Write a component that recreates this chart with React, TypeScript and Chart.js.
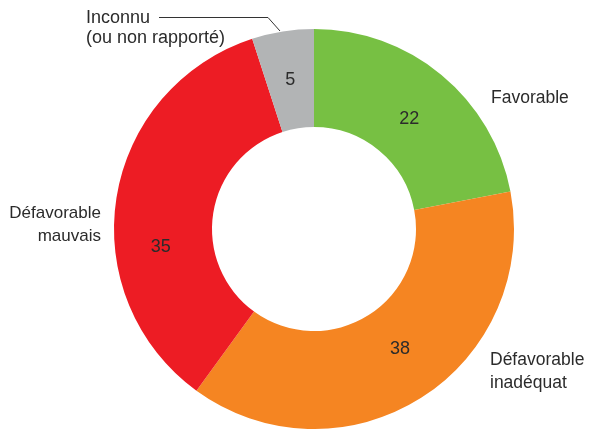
import React, { useEffect, useRef } from "react";
import { Chart, registerables } from "chart.js";

Chart.register(...registerables);

const categories = ["Favorable", "Défavorable inadéquat", "Défavorable mauvais", "Inconnu (ou non rapporté)"];
const values = [22, 38, 35, 5];
const colors = ["#77c043", "#f58522", "#ed1c24", "#b2b4b5"];
// external label lines per category
const labelLines = [["Favorable"], ["Défavorable", "inadéquat"], ["Défavorable", "mauvais"], ["Inconnu", "(ou non rapporté)"]];
// small nudges of the value labels from the arc centre
const valueNudges = [[-1, 6], [5, -7], [-4, 42], [0, 0]];

const FAMILY = '"Liberation Sans", Arial, sans-serif';
const TEXT = "#2b2b2b";

const labelPlugin = {
  id: "labelPlugin",
  afterDatasetsDraw(chart: any) {
    const ctx = chart.ctx;
    const meta = chart.getDatasetMeta(0);
    ctx.save();
    ctx.font = "18px " + FAMILY;
    ctx.fillStyle = TEXT;
    ctx.textBaseline = "middle";
    ctx.textAlign = "center";
    meta.data.forEach((arc: any, i: number) => {
      const p = arc.getCenterPoint();
      ctx.fillText(String(values[i]), p.x + valueNudges[i][0], p.y + valueNudges[i][1]);
    });
    const first = meta.data[0];
    const cx = first.x;
    const cy = first.y;
    const R = first.outerRadius;
    ctx.font = "17.5px " + FAMILY;
    // Favorable
    ctx.textAlign = "left";
    ctx.fillText(labelLines[0][0], cx + R * 0.885, cy - R * 0.655);
    // Défavorable inadéquat
    ctx.fillText(labelLines[1][0], cx + R * 0.88, cy + R * 0.655);
    ctx.fillText(labelLines[1][1], cx + R * 0.88, cy + R * 0.77);
    // Défavorable mauvais
    ctx.font = "17px " + FAMILY;
    ctx.textAlign = "right";
    ctx.fillText(labelLines[2][0], cx - R * 1.065, cy - R * 0.08);
    ctx.fillText(labelLines[2][1], cx - R * 1.065, cy + R * 0.035);
    // Inconnu
    ctx.font = "18px " + FAMILY;
    ctx.textAlign = "left";
    ctx.fillText(labelLines[3][0], cx - R * 1.14, cy - R * 1.055);
    ctx.fillText(labelLines[3][1], cx - R * 1.14, cy - R * 0.955);
    // leader line
    ctx.strokeStyle = "#333";
    ctx.lineWidth = 1;
    ctx.beginPath();
    ctx.moveTo(cx - R * 0.775, cy - R * 1.06 + 0.5);
    ctx.lineTo(cx - R * 0.23, cy - R * 1.06 + 0.5);
    ctx.lineTo(cx - R * 0.17, cy - R * 0.99);
    ctx.stroke();
    ctx.restore();
  },
};

export default function App() {
  const ref = useRef<HTMLCanvasElement | null>(null);
  useEffect(() => {
    if (!ref.current) return;
    const chart = new Chart(ref.current, {
      type: "doughnut",
      data: {
        labels: categories,
        datasets: [
          {
            data: values,
            backgroundColor: colors,
            borderWidth: 0,
            hoverOffset: 0,
          },
        ],
      },
      options: {
        responsive: false,
        animation: false,
        cutout: "51%",
        layout: { padding: { left: 113, right: 76, top: 29, bottom: -2 } },
        plugins: {
          legend: { display: false },
          tooltip: { enabled: false },
        },
      },
      plugins: [labelPlugin],
    });
    return () => chart.destroy();
  }, []);
  return (
    <div style={{ position: "fixed", left: 0, top: 0, width: 591, height: 429, background: "#fff", overflow: "hidden" }}>
      <canvas ref={ref} width={591} height={429} style={{ width: 591, height: 429 }} />
    </div>
  );
}
